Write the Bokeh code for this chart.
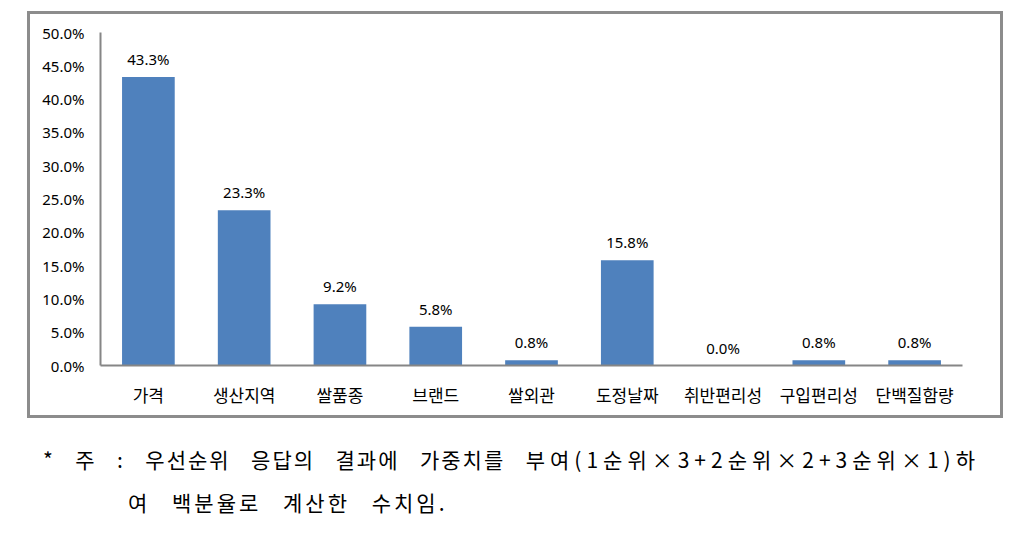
from bokeh.plotting import figure
from bokeh.layouts import column
from bokeh.models import (FactorRange, Range1d, FixedTicker, PrintfTickFormatter,
                          ColumnDataSource, Div, InlineStyleSheet)
from bokeh.core.properties import value
from bokeh.embed import file_html
from bokeh.resources import INLINE

categories = ["가격", "생산지역", "쌀품종", "브랜드", "쌀외관", "도정날짜", "취반편리성", "구입편리성", "단백질함량"]
shares = [43.3, 23.3, 9.2, 5.8, 0.8, 15.8, 0.0, 0.8, 0.8]
y_ticks = [0, 5, 10, 15, 20, 25, 30, 35, 40, 45, 50]
note_line1_head = "* 주 : 우선순위 응답의 결과에 가중치를 "
note_line1_tail = "부여(1순위×3+2순위×2+3순위×1)하"
note_line2 = "여 백분율로 계산한 수치임."

src = ColumnDataSource(dict(cat=categories, val=shares,
                            lbl=[f"{v:.1f}%" for v in shares]))

p = figure(x_range=FactorRange(*categories), y_range=Range1d(0, 50),
           width=1024, height=440, output_backend="svg", toolbar_location=None,
           min_border_left=100, min_border_right=62, min_border_top=32,
           min_border_bottom=75)
p.xgrid.visible = False
p.ygrid.visible = False
p.outline_line_color = None
p.background_fill_color = "white"
p.border_fill_color = "white"

for ax in (p.xaxis[0], p.yaxis[0]):
    ax.axis_line_color = "#868686"
    ax.axis_line_width = 2
    ax.major_tick_line_color = None
    ax.minor_tick_line_color = None
    ax.major_tick_out = 0
    ax.major_tick_in = 0
    ax.major_label_text_color = "black"

p.yaxis.ticker = FixedTicker(ticks=y_ticks)
p.yaxis.formatter = PrintfTickFormatter(format="%.1f%%")
p.yaxis.major_label_text_font = "Noto Sans"
p.yaxis.major_label_text_font_size = "15px"
p.yaxis.major_label_standoff = 16

p.xaxis.major_label_text_font = "Noto Sans CJK KR"
p.xaxis.major_label_text_font_size = "17px"
p.xaxis.major_label_standoff = 16

p.vbar(x="cat", top="val", width=0.55, source=src,
       fill_color="#4F81BD", line_color=None)
p.text(x="cat", y="val", text="lbl", source=src, text_align="center",
       text_baseline="middle", y_offset=-18, text_font=value("Noto Sans"),
       text_font_size="15px", text_color="black")

# outer chart box
p.stylesheets = [InlineStyleSheet(css="""
:host::after {
  content: ''; position: absolute; left: 27px; top: 11px;
  width: 976px; height: 407px; border: 3px solid #8c8c8c;
  pointer-events: none; box-sizing: content-box;
}
""")]

note_html = f"""
<div style="position:relative;width:1024px;height:103px;font-family:'Noto Sans CJK KR';
            font-size:21px;color:#000;line-height:1;">
  <div style="position:absolute;left:43px;top:9px;width:937px;white-space:nowrap;
              text-align:justify;text-align-last:justify;letter-spacing:2px;">{note_line1_head}<span
       style="letter-spacing:5px;">{note_line1_tail}</span></div>
  <div style="position:absolute;left:128px;top:52px;white-space:nowrap;
              letter-spacing:3px;word-spacing:14px;">{note_line2}</div>
</div>
"""
note = Div(text=note_html, width=1024, height=103, margin=0)

layout = column(p, note, spacing=0)
open("out.html", "w").write(file_html(layout, INLINE))
